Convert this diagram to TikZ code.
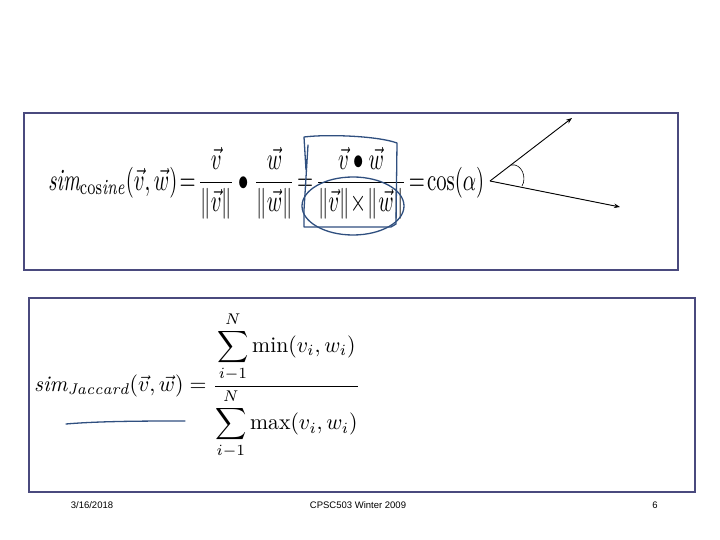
\documentclass[tikz,border=0pt]{standalone}
\usepackage{amsmath}
\usepackage{graphicx}
\usepackage{fontspec}
\usetikzlibrary{arrows.meta}
\newfontfamily\arialf{Liberation Sans}
\definecolor{frame}{HTML}{4A4A7E}
\definecolor{pen}{HTML}{2F4F7F}
\begin{document}
\begin{tikzpicture}[x=1pt,y=-1pt,
  boxf/.style={draw=frame,line width=1.5pt},
  foot/.style={font=\arialf\fontsize{9.5}{11}\selectfont},
  hand/.style={draw=pen,line width=1.3pt,line cap=round,line join=round}]
\useasboundingbox (0,0) rectangle (720,540);
\draw[boxf] (24,113) rectangle (678,270);
\draw[boxf] (29,298) rectangle (695,492);
\node[anchor=west,inner sep=0] (cosf) at (48,183) {\resizebox*{436pt}{72pt}{%
 $\displaystyle \mathit{sim}_{\mathrm{cos}\mathit{ine}}(\vec v,\vec w)\!=\!\frac{\vec v}{\|\vec v\|}\bullet\frac{\vec w}{\|\vec w\|}\!=\!\frac{\vec v\bullet\vec w}{\|\vec v\|\!\times\!\|\vec w\|}\!=\!\cos(\alpha)$}};
\coordinate (o) at (490,181);
\coordinate (a1) at (572,118);
\coordinate (a2) at (620,207);
\draw[-{Stealth[length=6pt]},line width=0.9pt] (o) -- (a1);
\draw[-{Stealth[length=6pt]},line width=0.9pt] (o) -- (a2);
\draw[line width=0.6pt] (511,165) .. controls (522,163) and (527,178) .. (522,186);
\begin{scope}[xshift=8]
\draw[hand] (300,145) -- (296,210) -- (296,227) -- (383,227) -- (388,224) -- (389,143) .. controls (370,136) and (320,134) .. (296,137) -- (298,170);
\draw[hand] (345,206) ellipse [x radius=51,y radius=29];
\end{scope}
\node[anchor=west,inner sep=0] (jac) at (34,386) {\resizebox*{326pt}{148pt}{%
 $\displaystyle \mathit{sim}_{\mathit{Jaccard}}(\vec v,\vec w)=\frac{\displaystyle\sum_{i-1}^{N}\min(v_i,w_i)}{\displaystyle\sum_{i-1}^{N}\max(v_i,w_i)}$}};
\draw[hand] (66,424) .. controls (100,421) and (150,421) .. (185,421);
\node[foot] (d) at (92,505) {3/16/2018};
\node[foot] (c) at (358,505) {CPSC503 Winter 2009};
\node[foot] (p) at (655,505) {6};
\end{tikzpicture}
\end{document}
